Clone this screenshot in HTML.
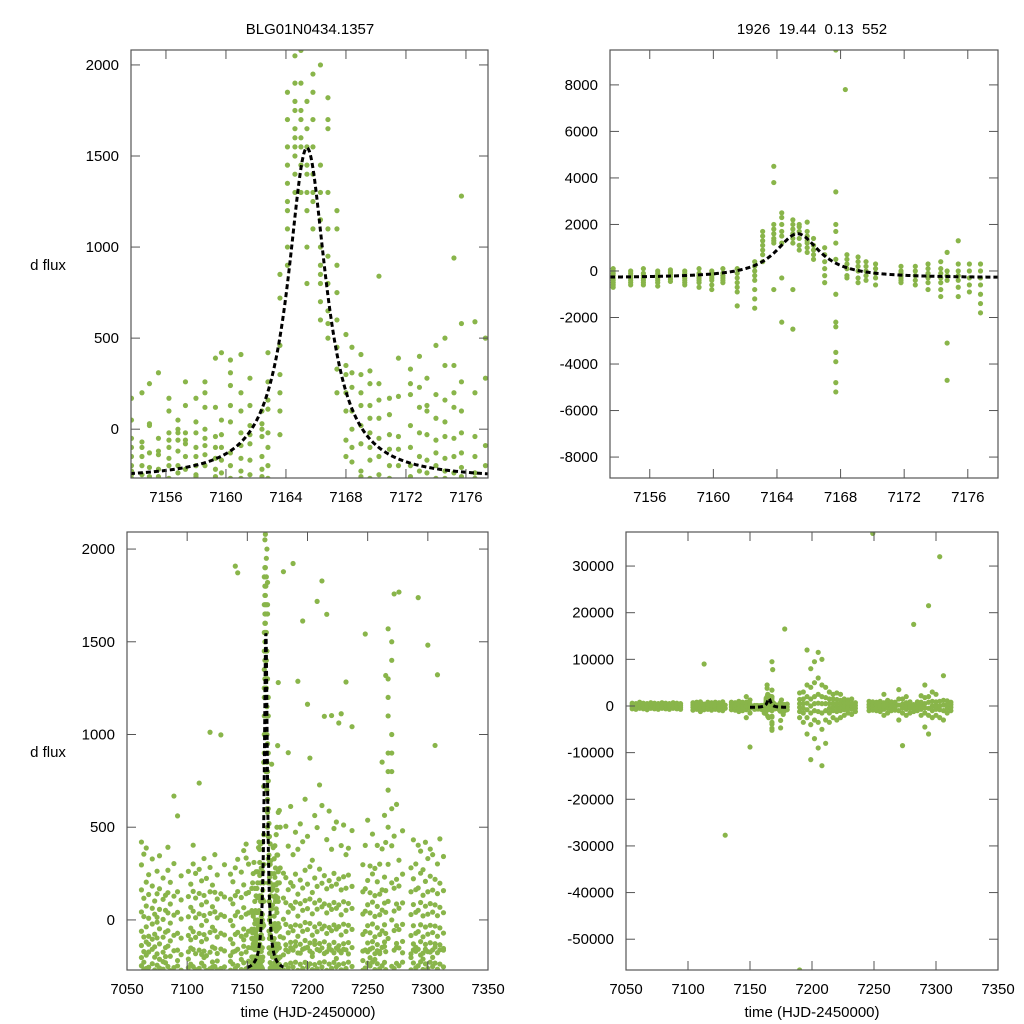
<!DOCTYPE html>
<html><head><meta charset="utf-8"><style>
body{margin:0;background:#fff}
svg{display:block;font-family:"Liberation Sans",sans-serif}
</style></head><body>
<svg id="chart" width="1024" height="1024" viewBox="0 0 1024 1024">
<text x="310" y="34" font-size="15" text-anchor="middle">BLG01N0434.1357</text>
<text x="812" y="34" font-size="15" text-anchor="middle" xml:space="preserve">1926  19.44  0.13  552</text>
<text x="48" y="270" font-size="15" text-anchor="middle">d flux</text>
<text x="48" y="757" font-size="15" text-anchor="middle">d flux</text>
<text x="308" y="1017" font-size="15" text-anchor="middle">time (HJD-2450000)</text>
<text x="812" y="1017" font-size="15" text-anchor="middle">time (HJD-2450000)</text>
</svg>
<script>
// Top-left (zoomed, flux) nightly clusters
const tlTimes=[7153.7,7154.4,7154.9,7155.5,7156.2,7156.8,7157.3,7158.0,7158.6,7159.3,7159.7,7160.3,7161.0,7161.6,7162.4,7162.8,7163.6,7164.1,7164.6,7165.0,7165.4,7165.8,7166.3,7166.8,7167.4,7168.0,7168.4,7169.0,7169.6,7170.2,7170.9,7171.5,7172.3,7172.9,7173.4,7174.0,7174.6,7175.2,7175.7,7176.6,7177.3];
const tlVals=[[-270,-250,-200,-150,-100,-50,50,170,-230],[-150,-200,-100,-250,200,-70],[20,30,-130,-210,250,-260],[310,-50,-140,-220,-260,-120],[100,-20,-60,-100,-200,-160,170,-270],[-20,-60,-120,-200,-240,50,0],[130,-20,-80,-150,-220,-60,260],[170,-20,-100,-150,-200,-250,40,-260],[200,120,-50,-90,-140,-200,260,0],[390,120,-40,-160,-220,-100,-260],[420,50,-30,-100,-170,-240],[240,130,40,-130,-200,-270,380,310],[410,200,100,-20,-90,-160,-230,-270],[280,130,20,-80,-170,-250,-30],[100,0,-40,-150,-220,30,-260],[420,260,110,-20,-100,-200,-270,160],[200,720,850,460,300,100,-30],[900,1100,1250,1350,1450,1550,1700,1850,1000,1200],[1500,1600,1750,1900,2050,1800,1650,1400,1300,1550],[1300,1450,1600,1750,1900,1700,2080,1550],[1200,1300,1400,1550,1650,1800,1450,800,1000],[1100,1250,1400,1550,1700,1850,1950,1300],[600,700,850,1000,1150,1300,1450,900,2000,800],[500,650,800,950,1100,1300,1700,1820,1650,580],[200,330,450,600,750,900,1100,1200],[100,200,300,-60,-150,350,520],[0,100,-100,-180,230,310,450],[-80,20,130,200,300,410,-230,-260],[130,250,320,-20,-100,-170,-270,60],[60,160,-50,-150,-250,840,250],[170,-30,-110,-200,-270,80],[390,-40,-200,-110,180],[330,190,20,-100,-200,-260,250],[400,230,120,-20,-150,-230],[280,100,-30,-170,-240,130],[460,190,60,-60,-130,-200,-270],[500,350,160,40,-40,-160,-230,-270],[940,350,200,120,-50,-150,-240],[1280,580,260,100,-20,-130,-210,-260],[590,200,-40,-150,-240,-270],[500,280,-90,-200]];
// Top-right (zoomed, raw) nightly clusters
const trTimes=[7153.7,7154.8,7155.6,7156.5,7157.3,7158.2,7159.1,7159.9,7160.6,7161.5,7162.6,7163.1,7163.8,7164.3,7165.0,7165.4,7165.9,7166.3,7167.0,7167.7,7168.3,7168.4,7169.1,7169.6,7170.2,7171.8,7172.7,7173.5,7174.3,7174.7,7175.4,7176.1,7176.8];
const trVals=[[-600,-500,-400,-300,-200,-100,100,-700,0],[-500,-400,-300,-200,-100,0,-600],[-500,-400,-300,-200,-100,100,-600],[-500,-400,-300,-200,-100,0,-650],[-450,-350,-250,-150,-50,50],[-500,-400,-300,-200,-100,0,-600],[-500,-400,-300,-200,-100,100,-700],[-600,-400,-300,-200,-100,0,-800],[-500,-400,-300,-200,-100,100],[-900,-700,-500,-300,-100,100,-1500],[-1200,-800,-400,-200,0,200,400,-1600],[400,700,900,1100,1300,1500,1700],[1200,1400,1600,1800,2000,4500,3800,-800,1300],[1500,1700,2000,2300,2500,1200,-2200,-300],[1200,1400,1600,1800,2000,2200,-2500,-800],[900,1100,1400,1700,1900,2000],[800,1000,1200,1500,1700,2100,1300],[500,700,900,1100,1400],[-500,-200,100,400,700,1000],[-5200,-4800,-3900,-3500,-2400,-2200,-1000,500,1200,1700,3400,2000,9500],[7800],[-200,100,300,500,700,-300],[-300,0,200,400,600,-500],[-400,-200,0,200,400],[-600,-300,-100,100,300],[-500,-400,-300,-200,-100,0,200],[-600,-400,-200,0,200],[-500,-300,-100,100,300,-800],[-800,-500,-300,-100,100,400,-1100],[-3100,-4700,-400,-200,0,800],[-700,-400,-200,0,300,1300,-1100],[-600,-300,0,300,-900],[-1800,-1400,-1000,-600,-300,0,300]];
// Bottom-left (full season, flux) additional nights
const blTimes=[7062,7064,7066,7068,7071,7073,7075,7077,7080,7082,7084,7086,7089,7092,7095,7101,7103,7105,7107,7110,7112,7114,7116,7119,7121,7123,7125,7128,7131,7136,7138,7140,7142,7145,7147,7149,7151,7180,7182,7184,7186,7188,7190,7192,7194,7196,7198,7200,7202,7204,7206,7208,7210,7212,7214,7216,7218,7220,7222,7224,7226,7228,7230,7232,7234,7237,7246,7248,7250,7252,7254,7256,7258,7260,7262,7264,7265,7267,7270,7272,7274,7276,7279,7286,7288,7290,7292,7294,7296,7298,7300,7302,7304,7306,7308,7310,7313];
const blVals=[[-247,-138,-61,43,162,297,-203,420],[-228,-171,-92,18,117,355,-265],[-262,-119,-37,75,204,-190,388],[-255,-173,-88,9,137,244,-131],[-236,-158,-104,-22,63,183,329],[-270,-201,-77,31,102,-145],[-244,-183,-97,14,141,263,-12],[-259,-212,-129,-48,57,168,346],[-266,-174,-93,3,111,226,-225],[-231,-149,-66,52,133,-198],[-251,-141,-58,38,147,268,392],[-273,-196,-113,-17,86,203],[-257,-166,-83,26,128,304,668],[-248,-163,-72,41,152,561,-219],[-271,-187,-98,5,108,238],[-258,-172,-84,17,126,262,-211],[-239,-151,-44,68,-107,193],[-252,-159,-63,47,154,302,403],[-268,-182,-94,12,118,251],[-261,-163,-73,33,143,273,738],[-233,-117,-29,82,211,-186],[-249,-168,-79,24,132,331,-203],[-272,-193,-103,-4,97,224],[-263,-174,-67,35,152,283,1012],[-227,-146,-39,71,188,-255],[-251,-153,-58,44,149,352],[-269,-181,-92,11,113,243,-221],[-262,-157,-72,28,141,998],[-253,-167,-81,19,124,298],[-271,-193,-104,-3,112,247,-224],[-238,-128,-31,87,206,-173],[-262,-168,-78,23,131,281,1908],[-246,-158,-67,43,153,327,1872],[-268,-182,-88,14,121,258,-213],[-231,-142,-49,66,189,-107,374],[-263,-173,-82,31,142,334,409],[-254,-149,-61,38,148,301,-223],[-269,-188,-97,4,118,252,1878],[-241,-134,-24,93,228,-161,505],[-258,-171,-69,42,163,398,902],[-233,-121,-36,78,201,-149,612],[-254,-163,-58,63,182,352,1922],[-228,-118,-27,96,247,-141,473],[-272,-178,-88,21,139,381,1287],[-239,-131,-32,88,215,-179,518],[-262,-158,-61,52,172,422,1612],[-229,-111,-14,104,268,-152,651],[-253,-148,-52,61,193,451,1163],[-237,-124,-19,113,287,-168,873],[-268,-179,-82,33,148,322,-197],[-241,-132,-37,92,226,-113,563],[-263,-159,-63,58,181,498,1718],[-231,-127,-21,106,274,-166,728],[-254,-151,-48,71,198,617,1828],[-226,-118,-33,87,239,-181,1098],[-272,-172,-73,38,168,433,1648],[-238,-136,-41,79,212,-152,587],[-261,-163,-58,57,182,381,1102],[-229,-121,-27,94,251,-177,493],[-253,-152,-49,63,193,528,-208],[-241,-139,-36,81,221,-163,1062],[-269,-177,-81,28,162,401,1112],[-236,-128,-23,98,233,-158,512],[-262,-161,-62,52,171,352,1283],[-228,-122,-29,89,242,-183,387],[-251,-149,-51,62,181,482,1042],[-271,-168,-78,32,152,298,-219],[-259,-162,-62,47,168,402,1542],[-233,-124,-31,82,213,-172,538],[-248,-158,-69,38,147,291,-204],[-227,-117,-22,96,248,-151,463],[-268,-182,-91,19,131,278,-213],[-236,-133,-42,73,206,-166,402],[-263,-171,-79,28,139,301,-182],[-247,-148,-59,53,162,383,851],[-229,-119,-26,91,231,-143,564],[-268,-171,-73,41,158,418,1318],[-100,100,300,500,700,900,1100,1300,1570,1200,800],[0,200,400,600,800,1000,1400,1500,900,-250],[-262,-163,-57,48,171,452,1758],[-234,-127,-31,86,219,-148,623],[-247,-151,-52,63,183,322,1768],[-228,-116,-24,92,247,-177,481],[-269,-183,-84,29,152,281,-203],[-232,-129,-31,83,222,-162,432],[-258,-169,-72,41,163,302,-147],[-247,-158,-63,52,172,403,1738],[-226,-117,-26,94,252,-189,371],[-267,-179,-91,22,133,271,-211],[-237,-132,-38,74,208,-158,419],[-262,-171,-77,31,152,331,1482],[-228,-123,-29,88,236,-173,382],[-251,-162,-68,42,161,352,-202],[-233,-128,-33,81,219,-147,941],[-266,-177,-88,23,142,302,1322],[-238,-134,-43,68,198,-161,437],[-253,-163,-71,39,158,342,-154],[-271,-182,-94,18,129,288,-202]];
// Bottom-right (full season, raw) additional nights
const brTimes=[7055,7058,7061,7064,7067,7070,7073,7076,7079,7082,7085,7088,7091,7094,7104,7107,7110,7113,7116,7119,7122,7125,7128,7130,7135,7138,7141,7144,7147,7150,7178,7180,7190,7193,7196,7199,7202,7205,7208,7211,7214,7217,7220,7223,7226,7229,7232,7235,7246,7249,7252,7255,7258,7261,7264,7267,7270,7273,7276,7279,7282,7285,7288,7291,7294,7297,7300,7303,7306,7309,7312];
const brVals=[[-600,-200,200,600],[-700,-300,100,500],[-500,-100,300,800],[-600,-200,200,600],[-800,-300,100,500],[-500,-100,300,700],[-600,-200,200,600],[-700,-300,100,500],[-500,-100,300,700],[-600,-200,200,600],[-700,-300,100,500],[-500,-100,300,700],[-600,-200,200,600],[-700,-300,100,500],[-900,-300,200,700],[-700,-200,300,800],[-1200,-400,200,900],[-800,-200,400,9000],[-700,-200,300,800],[-900,-300,200,700],[-700,-200,300,800],[-900,-300,200,700],[-1000,-300,300,900],[-27700,-500,200],[-800,-200,300,800],[-900,-300,200,700],[-1200,-400,300,1000],[-1000,-300,300,800],[-2500,-800,0,800,2000],[-8800,-1500,-500,400,1300],[-1000,-300,16500,300],[-800,-200,400],[-2500,-1200,-300,500,1400,2800,-56600],[-3500,-1500,-500,500,1500,3000],[-6000,-2500,-800,600,2000,4500,12000],[-11500,-4000,-1500,0,1500,4000,8000],[-7000,-3000,-1000,500,2000,5000,9500],[-9000,-3500,-1200,600,2500,6000,11500],[-12800,-5000,-1500,500,2000,4500,10000],[-8000,-3000,-1000,500,1800,4000],[-3500,-1500,-500,500,1500,3000],[-2500,-1000,-200,600,1500,2500],[-3000,-1200,-300,500,1400,2800],[-2500,-1000,-300,500,1200,2500],[-2000,-800,0,700,1500],[-1500,-600,0,600,1300],[-1800,-700,0,600,1500],[-1200,-500,100,700],[-1000,-300,300,1000],[-900,-300,300,900,37000],[-1000,-400,200,800],[-1200,-400,300,1000],[-2000,-700,0,700,2500],[-1500,-500,300,1200],[-1000,-300,300,900],[-900,-300,300,800],[-3000,-1000,200,1500,3500],[-8500,-1500,-400,400,1500],[-2000,-700,0,700,2000],[-1500,-500,200,900],[-1200,-400,300,17500],[-1000,-300,300,900],[-2000,-700,0,800,2200],[-4500,-1500,-400,500,1800,4500],[-6000,-2000,-500,800,2000,21500],[-2500,-1000,0,1000,3000],[-2000,-700,100,900,2500],[-2500,-800,0,1000,32000],[-3000,-1000,200,1200,6500],[-1500,-500,300,1100],[-1000,-300,300,800]];
// microlensing model parameters (fit), for dashed curve
const modelLeft=[7165.4,1.56,1820,-275];
const modelRight=[7165.3,1.7,1900,-300];

const NS="http://www.w3.org/2000/svg";
const svg=document.getElementById('chart');
function mk(tag,attrs,parent){const e=document.createElementNS(NS,tag);for(const k in attrs)e.setAttribute(k,attrs[k]);(parent||svg).appendChild(e);return e;}
function model(p,t){const d=(t-p[0])/p[1];return p[3]+p[2]/(1+d*d);}
let clipId=0;
function panel(cfg){
  const {x0,x1,y0,y1,xmin,xmax,ymin,ymax}=cfg;
  const X=v=>x0+(v-xmin)/(xmax-xmin)*(x1-x0);
  const Y=v=>y1-(v-ymin)/(ymax-ymin)*(y1-y0);
  const g=mk('g',{});
  
  
  const id='c'+(clipId++);
  const cp=mk('clipPath',{id:id},g);mk('rect',{x:x0,y:y0,width:x1-x0,height:y1-y0},cp);
  const pts=mk('g',{'clip-path':'url(#'+id+')',fill:'#89b54a'},g);
  
  
  cfg.sets.forEach(([T,V])=>{T.forEach((t,i)=>{V[i].forEach(v=>{
    const c=mk('circle',{cx:X(t),cy:Y(v),r:2.6},pts);
    
    
  });});});
  let d='';const n=400;
  for(let i=0;i<=n;i++){const t=cfg.mx0+(cfg.mx1-cfg.mx0)*i/n;d+=(i?'L':'M')+X(t).toFixed(2)+','+Y(model(cfg.model,t)).toFixed(2);}
  const path=mk('path',{d:d,fill:'none',stroke:'#000','stroke-width':3,'stroke-dasharray':'5,3','clip-path':'url(#'+id+')'},g);
  
  
  const fr=mk('rect',{x:x0,y:y0,width:x1-x0,height:y1-y0,fill:'none',stroke:'#555','stroke-width':1.2},g);
  
  
  cfg.xticks.forEach(v=>{const x=X(v);
    mk('line',{x1:x,x2:x,y1:y1,y2:y1-9,stroke:'#555'},g);mk('line',{x1:x,x2:x,y1:y0,y2:y0+9,stroke:'#555'},g);
    const tx=mk('text',{x:x,y:y1+24,'font-size':15,'text-anchor':'middle'},g);tx.textContent=v;
    
    });
  cfg.yticks.forEach(v=>{const y=Y(v);
    mk('line',{x1:x0,x2:x0+9,y1:y,y2:y,stroke:'#555'},g);mk('line',{x1:x1,x2:x1-9,y1:y,y2:y,stroke:'#555'},g);
    const tx=mk('text',{x:x0-12,y:y+5,'font-size':15,'text-anchor':'end'},g);tx.textContent=v;
    
    });
}
panel({name:'panel-top-left',x0:131,x1:488,y0:50,y1:478,xmin:7153.67,xmax:7177.47,ymin:-268,ymax:2082,
  sets:[[tlTimes,tlVals]],model:modelLeft,mx0:7153.6,mx1:7177.5,
  xticks:[7156,7160,7164,7168,7172,7176],yticks:[0,500,1000,1500,2000]});
panel({name:'panel-top-right',x0:610,x1:998,y0:50,y1:478,xmin:7153.5,xmax:7177.9,ymin:-8900,ymax:9500,
  sets:[[trTimes,trVals]],model:modelRight,mx0:7153.5,mx1:7177.9,
  xticks:[7156,7160,7164,7168,7172,7176],yticks:[-8000,-6000,-4000,-2000,0,2000,4000,6000,8000]});
panel({name:'panel-bottom-left',x0:127,x1:488,y0:532,y1:970,xmin:7050,xmax:7350,ymin:-270,ymax:2092,
  sets:[[blTimes,blVals],[tlTimes,tlVals]],model:modelLeft,mx0:7150,mx1:7180,
  xticks:[7050,7100,7150,7200,7250,7300,7350],yticks:[0,500,1000,1500,2000]});
panel({name:'panel-bottom-right',x0:626,x1:998,y0:532,y1:970,xmin:7050,xmax:7350,ymin:-56600,ymax:37300,
  sets:[[brTimes,brVals],[trTimes,trVals]],model:modelRight,mx0:7150,mx1:7180,
  xticks:[7050,7100,7150,7200,7250,7300,7350],yticks:[-50000,-40000,-30000,-20000,-10000,0,10000,20000,30000]});
</script>
</body></html>
